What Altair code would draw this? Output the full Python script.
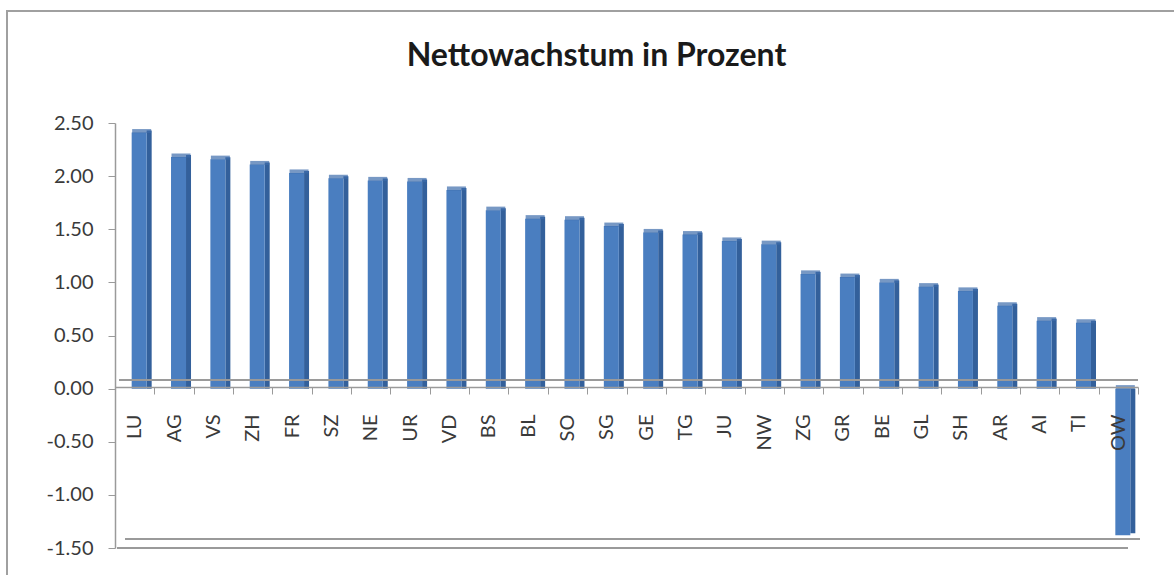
import altair as alt
import pandas as pd

kantone = ["LU", "AG", "VS", "ZH", "FR", "SZ", "NE", "UR", "VD", "BS", "BL", "SO", "SG",
           "GE", "TG", "JU", "NW", "ZG", "GR", "BE", "GL", "SH", "AR", "AI", "TI", "OW"]
wachstum = [2.41, 2.18, 2.16, 2.11, 2.03, 1.98, 1.96, 1.95, 1.87, 1.68, 1.60, 1.59, 1.53,
            1.47, 1.45, 1.39, 1.36, 1.08, 1.05, 1.00, 0.96, 0.92, 0.78, 0.64, 0.62, -1.38]
y_ticks = [-1.5, -1.0, -0.5, 0.0, 0.5, 1.0, 1.5, 2.0, 2.5]

df = pd.DataFrame({"Kanton": kantone, "Wachstum": wachstum})

W, H = 1023, 425
FONT = "Lato"
TXT = "#3a3a3a"
AXC = "#9a9a9a"

x_axis = alt.Axis(title=None, labelAngle=270, labelFont=FONT, labelFontSize=20,
                  labelColor=TXT, labelPadding=20, tickSize=7, tickColor=AXC,
                  tickBand="extent", domainColor=AXC, domainWidth=1.5,
                  offset=-161, zindex=2)
x_enc = alt.X("Kanton:N", sort=kantone,
              scale=alt.Scale(paddingInner=0, paddingOuter=0), axis=x_axis)
y_scale = alt.Scale(domain=[-1.5, 2.5], nice=False, zero=False)
y_axis = alt.Axis(title=None, values=y_ticks, grid=False,
                  labelExpr="replace(format(datum.value, '.2f'), '\u2212', '-')",
                  labelFont=FONT, labelFontSize=20, labelColor=TXT,
                  labelPadding=15, tickSize=7, tickColor=AXC,
                  domainColor=AXC, domainWidth=1.5)
y_enc = alt.Y("Wachstum:Q", scale=y_scale, axis=y_axis, title=None)

base = alt.Chart(df)

side = base.mark_bar(width=5, xOffset=14.5, yOffset=-2, color="#33609b").encode(
    x=x_enc, y=y_enc, y2=alt.datum(0))
front = base.mark_bar(width=15, xOffset=4.5, color="#4a7ec0").encode(
    x=x_enc, y=y_enc, y2=alt.datum(0))
cap = base.transform_calculate(top="max(datum.Wachstum, 0)").mark_tick(
    size=19, thickness=4, xOffset=7, yOffset=-1.5, color="#3d6cab"
).encode(x=x_enc, y=alt.Y("top:Q", scale=y_scale, axis=y_axis, title=None))

# outer frame of the chart (decoration)
frame = base.mark_rect(
    fill="transparent", stroke="#a0a0a0", strokeWidth=1.5, clip=False
).encode(x=alt.value(-108), x2=alt.value(W + 60), y=alt.value(-112), y2=alt.value(H + 60))

# back line of the 3D floor at zero
back0 = base.mark_rule(color=AXC, strokeWidth=1.5, yOffset=-9).encode(
    x=alt.value(4), x2=alt.value(W), y=alt.datum(0))

# bottom floor parallelogram
floor_lo = base.mark_rule(color=AXC, strokeWidth=1.5).encode(
    x=alt.value(2), x2=alt.value(W - 10), y=alt.datum(-1.5))
floor_hi = base.mark_rule(color=AXC, strokeWidth=1.5, yOffset=-9).encode(
    x=alt.value(10), x2=alt.value(W + 2), y=alt.datum(-1.5))

chart = alt.layer(side, front, cap, frame, back0, floor_lo, floor_hi).properties(
    width=W, height=H,
    title=alt.Title("Nettowachstum in Prozent", font=FONT, fontSize=32, fontWeight="bold",
                    color="#1a1a1a", anchor="middle", dx=-30, offset=-63),
    autosize=alt.AutoSizeParams(type="none"),
    padding={"left": 115, "top": 123, "right": 36, "bottom": 27},
).configure(background="white", view=alt.ViewConfig(strokeWidth=0))

chart.save("out.html", embed_options={"renderer": "svg", "actions": False})
